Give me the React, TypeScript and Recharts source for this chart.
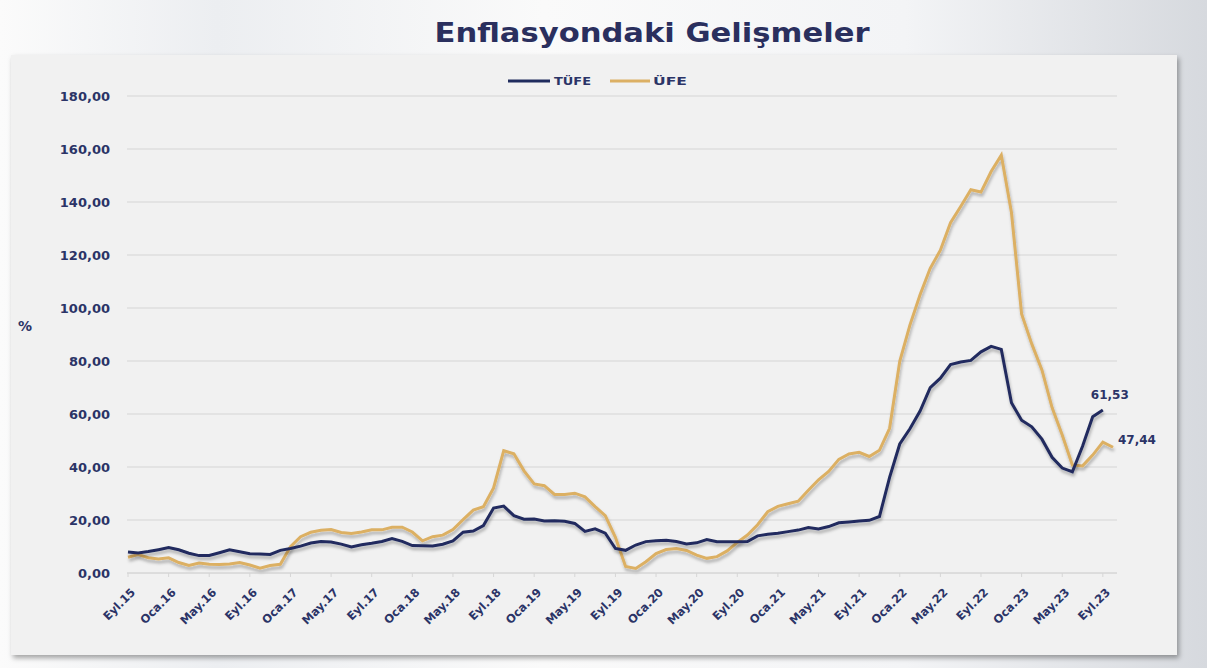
import { LineChart, Line, XAxis, YAxis, CartesianGrid } from "recharts";

const navy = "#202c5e";
const gold = "#dcb064";
const textNavy = "#2b3467";
const font = "'DejaVu Sans', sans-serif";

const monthNames = ["Oca", "Şub", "Mar", "Nis", "May", "Haz", "Tem", "Ağu", "Eyl", "Eki", "Kas", "Ara"];

// TÜFE yıllık % (Eyl.15 - Eyl.23)
const tufe = [
  7.95, 7.58, 8.1, 8.81,
  9.58, 8.78, 7.46, 6.57, 6.58, 7.64, 8.79, 8.05, 7.28, 7.16, 7.0, 8.53,
  9.22, 10.13, 11.29, 11.87, 11.72, 10.9, 9.79, 10.68, 11.2, 11.9, 12.98, 11.92,
  10.35, 10.26, 10.23, 10.85, 12.15, 15.39, 15.85, 17.9, 24.52, 25.24, 21.62, 20.3,
  20.35, 19.67, 19.71, 19.5, 18.71, 15.72, 16.65, 15.01, 9.26, 8.55, 10.56, 11.84,
  12.15, 12.37, 11.86, 10.94, 11.39, 12.62, 11.76, 11.77, 11.75, 11.89, 14.03, 14.6,
  14.97, 15.61, 16.19, 17.14, 16.59, 17.53, 18.95, 19.25, 19.58, 19.89, 21.31, 36.08,
  48.69, 54.44, 61.14, 69.97, 73.5, 78.62, 79.6, 80.21, 83.45, 85.51, 84.39, 64.27,
  57.68, 55.18, 50.51, 43.68, 39.59, 38.21, 47.83, 58.94, 61.53,
];

// ÜFE yıllık % (as drawn: one point longer than TÜFE)
const ufe = [
  5.97, 6.92, 5.74, 5.25, 5.71,
  3.96, 2.87, 3.8, 3.28, 3.25, 3.41, 3.96, 3.03, 1.78, 2.84, 3.31, 9.94,
  13.69, 15.36, 16.09, 16.37, 15.26, 14.87, 15.45, 16.34, 16.28, 17.28, 17.3, 15.47,
  12.14, 13.71, 14.28, 16.37, 20.16, 23.71, 25.0, 32.13, 46.15, 45.01, 38.54, 33.64,
  32.93, 29.64, 29.64, 30.12, 28.71, 25.04, 21.66, 13.45, 2.45, 1.7, 4.26, 7.36,
  8.84, 9.26, 8.5, 6.71, 5.53, 6.17, 8.33, 11.53, 14.33, 18.2, 23.11, 25.15,
  26.16, 27.09, 31.2, 35.17, 38.33, 42.89, 44.92, 45.52, 43.96, 46.31, 54.62, 79.89,
  93.53, 105.01, 114.97, 121.82, 132.16, 138.31, 144.61, 143.75, 151.5, 157.69, 136.02, 97.72,
  86.46, 76.61, 62.43, 52.11, 40.76, 40.42, 44.5, 49.41, 47.44,
];

const yTicks = [0, 20, 40, 60, 80, 100, 120, 140, 160, 180];

const months: string[] = [];
for (let i = 0; i < ufe.length; i++) {
  const m = (8 + i) % 12;
  const yr = 15 + Math.floor((8 + i) / 12);
  months.push(`${monthNames[m]}.${yr}`);
}

const data = months.map((month, i) => ({
  month,
  tufe: i < tufe.length ? tufe[i] : null,
  ufe: ufe[i],
}));

const fmt = (v: number) => v.toFixed(2).replace(".", ",");

function XTick({ x, y, payload }: any) {
  const ax = x + 8;
  const ay = y + 14;
  return (
    <text
      x={ax}
      y={ay}
      transform={`rotate(-45, ${ax}, ${ay})`}
      textAnchor="end"
      fontSize={11.5}
      fontWeight="bold"
      fontFamily={font}
      fill={textNavy}
    >
      {payload.value}
    </text>
  );
}

function lastLabel(count: number, dx: number, dy: number, anchor: string) {
  return (props: any) => {
    const { x, y, index, value } = props;
    if (index !== count - 1) return <g key={index} />;
    return (
      <text
        key={index}
        x={x + dx}
        y={y + dy}
        textAnchor={anchor}
        fontSize={12}
        fontWeight="bold"
        fontFamily={font}
        fill={textNavy}
      >
        {fmt(value)}
      </text>
    );
  };
}

export default function App() {
  return (
    <div
      style={{
        position: "absolute",
        left: 0,
        top: 0,
        width: 1207,
        height: 668,
        overflow: "hidden",
        background:
          "linear-gradient(90deg, #fbfbfb 0%, #eceef1 18%, #fafafa 45%, #f3f4f6 75%, #d6d9de 100%)",
      }}
    >
      <svg width={0} height={0} style={{ position: "absolute" }}>
        <defs>
          <filter id="lineShadow" x="-5%" y="-5%" width="110%" height="120%">
            <feDropShadow dx="1" dy="3" stdDeviation="1.5" floodColor="#000" floodOpacity="0.28" />
          </filter>
        </defs>
      </svg>
      <div
        style={{
          position: "absolute",
          left: 11,
          top: 55,
          width: 1166,
          height: 600,
          background: "#f1f1f1",
          boxShadow: "2px 3px 5px rgba(0,0,0,0.35)",
        }}
      />
      <svg width={1207} height={668} style={{ position: "absolute", left: 0, top: 0 }}>
        <text
          x={652}
          y={42}
          textAnchor="middle"
          fontSize={26}
          fontWeight="bold"
          fontFamily={font}
          fill="#2a2f5e"
          textLength={435}
          lengthAdjust="spacingAndGlyphs"
        >
          Enflasyondaki Gelişmeler
        </text>
        <line x1={508} y1={81} x2={550} y2={81} stroke={navy} strokeWidth={3} />
        <text
          x={554}
          y={85}
          fontSize={10}
          fontWeight="bold"
          fontFamily={font}
          fill={textNavy}
          textLength={37}
          lengthAdjust="spacingAndGlyphs"
        >
          TÜFE
        </text>
        <line x1={610} y1={81} x2={650} y2={81} stroke={gold} strokeWidth={3} />
        <text
          x={653}
          y={85}
          fontSize={10}
          fontWeight="bold"
          fontFamily={font}
          fill={textNavy}
          textLength={34}
          lengthAdjust="spacingAndGlyphs"
        >
          ÜFE
        </text>
        <text x={18} y={331} fontSize={14} fontWeight="bold" fontFamily={font} fill={textNavy}>
          %
        </text>
      </svg>
      <div style={{ position: "absolute", left: 0, top: 0 }}>
        <LineChart
          width={1207}
          height={668}
          data={data}
          margin={{ top: 96, right: 90, left: 67, bottom: 35 }}
        >
          <CartesianGrid vertical={false} stroke="#d6d6d6" strokeWidth={1.2} />
          <XAxis
            dataKey="month"
            interval={3}
            height={60}
            padding={{ left: 1, right: 4 }}
            axisLine={{ stroke: "#d6d6d6" }}
            tickLine={{ stroke: "#d6d6d6" }}
            tickSize={4}
            tickMargin={2}
            tick={<XTick />}
          />
          <YAxis
            width={60}
            domain={[0, 180]}
            ticks={yTicks}
            axisLine={false}
            tickLine={false}
            tickSize={0}
            tickMargin={17}
            tickFormatter={fmt}
            tick={{ fontSize: 13, fontWeight: "bold", fontFamily: font, fill: textNavy }}
          />
          <Line
            dataKey="ufe"
            stroke={gold}
            strokeWidth={3}
            dot={false}
            type="linear"
            isAnimationActive={false}
            filter="url(#lineShadow)"
            label={lastLabel(ufe.length, 5, -3, "start")}
          />
          <Line
            dataKey="tufe"
            stroke={navy}
            strokeWidth={3}
            dot={false}
            type="linear"
            isAnimationActive={false}
            filter="url(#lineShadow)"
            label={lastLabel(tufe.length, 7, -11, "middle")}
          />
        </LineChart>
      </div>
    </div>
  );
}
